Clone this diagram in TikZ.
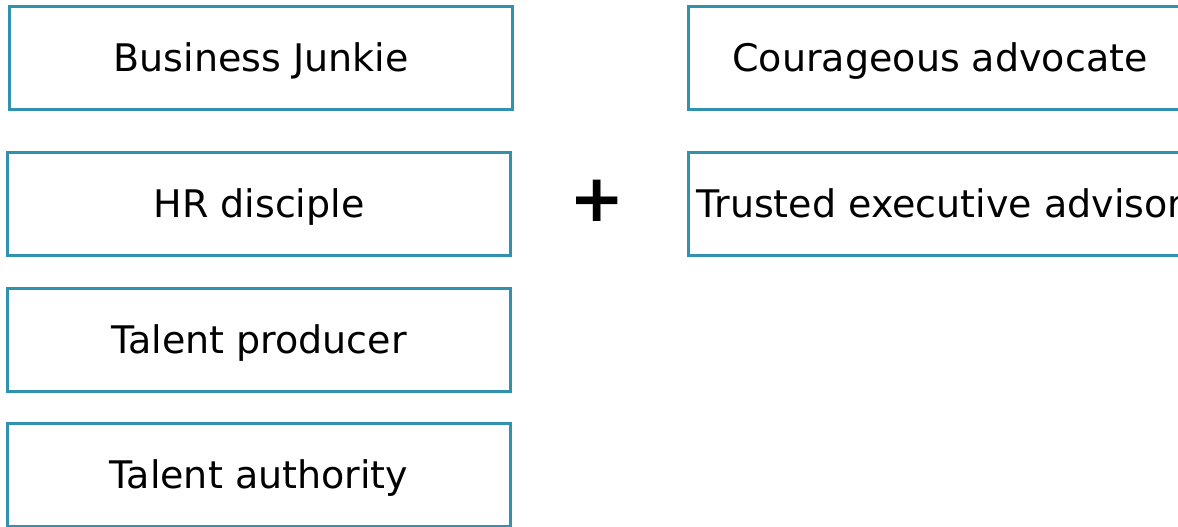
\documentclass[tikz,border=0pt]{standalone}
\usepackage{fontspec}
\setmainfont{DejaVu Sans}
\begin{document}
\begin{tikzpicture}[x=1pt,y=-1pt,
  rolebox/.style={draw=boxteal, line width=3.2pt, minimum width=503pt, minimum height=103pt,
    inner sep=0pt, text height=27.5pt, text depth=0pt, font=\fontsize{38}{44}\selectfont, text=black},
  plussign/.style={inner sep=0pt, font=\fontsize{66}{66}\selectfont\bfseries}]
\definecolor{boxteal}{HTML}{3192B0}
\useasboundingbox (0,0) rectangle (1178,527);
\clip (0,0) rectangle (1178,527);
\node[rolebox] (bj) at (261,58) {Business Junkie};
\node[rolebox] (hr) at (259,204) {HR disciple};
\node[rolebox] (tp) at (259,340) {Talent producer};
\node[rolebox] (ta) at (259,475) {Talent authority};
\node[rolebox] (ca) at (940,58) {Courageous advocate};
\node[rolebox] (te) at (940,204) {Trusted executive advisor};
\node[plussign] (plus) at (597,201) {+};
\end{tikzpicture}
\end{document}
